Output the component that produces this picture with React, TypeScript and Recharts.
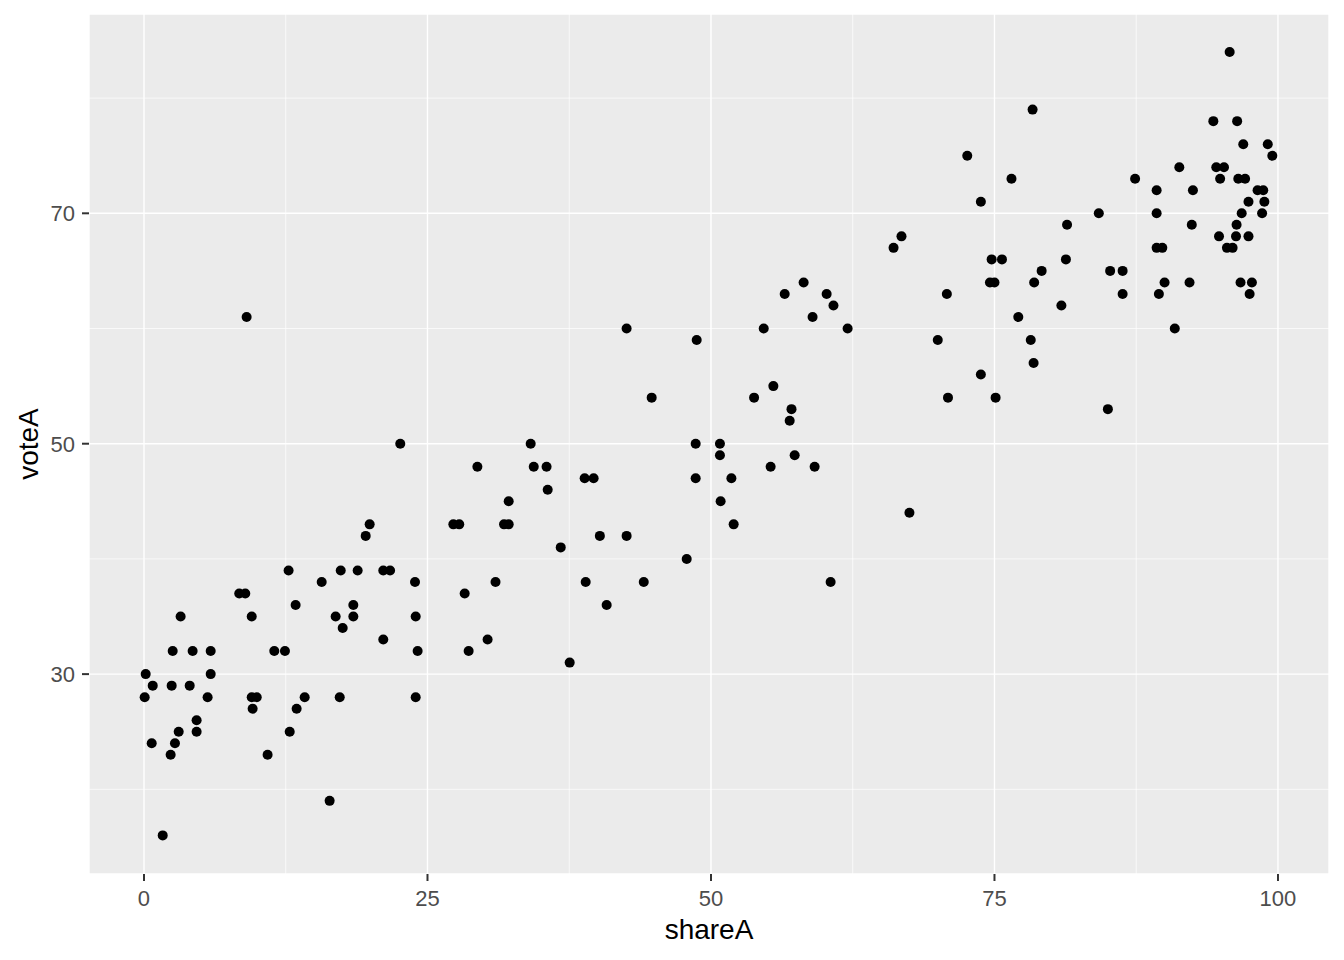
import { ScatterChart, Scatter, XAxis, YAxis, CartesianGrid, ReferenceLine } from 'recharts';

// shareA / voteA pairs
const shareA = [
  12.75, 17.35, 18.84, 21.1, 21.7, 23.9, 15.67, 8.4, 8.93, 13.37,
  18.46, 3.23, 9.5, 16.9, 18.46, 23.96, 17.52, 21.1, 2.53, 4.29,
  5.88, 11.49, 12.43, 24.13, 0.15, 5.88, 0.77, 2.44, 4.03, 0.06,
  5.61, 9.5, 9.94, 14.17, 17.26, 23.96, 9.58, 13.46, 4.64, 3.06,
  4.64, 12.85, 0.68, 2.73, 2.35, 10.9, 16.37, 1.65, 9.05, 22.6,
  34.1, 29.4, 34.37, 32.16, 19.9, 19.55, 27.28, 27.8, 31.75, 32.16,
  31.0, 42.56, 48.74, 44.77, 53.8, 48.65, 50.79, 50.79, 35.5, 38.86,
  39.65, 48.65, 51.8, 35.6, 50.85, 52.0, 40.2, 42.56, 36.75, 47.86,
  38.95, 44.07, 28.28, 66.1, 58.17, 56.5, 60.2, 60.8, 58.96, 54.65,
  62.05, 70.0, 55.5, 57.1, 56.94, 57.38, 55.26, 59.14, 67.5, 60.55,
  78.36, 72.6, 76.5, 87.4, 73.8, 84.2, 81.4, 66.8, 74.75, 75.66,
  81.3, 79.16, 85.2, 86.3, 74.6, 75.0, 78.5, 70.8, 86.3, 80.9,
  77.1, 78.2, 78.45, 73.8, 70.9, 75.1, 85.0, 95.74, 94.3, 96.4,
  96.94, 99.1, 99.5, 91.3, 94.56, 95.24, 94.9, 96.5, 97.1, 89.3,
  92.5, 98.2, 98.7, 97.4, 98.8, 89.3, 96.8, 98.6, 92.4, 96.35,
  94.8, 96.3, 97.4, 95.5, 96.0, 89.3, 89.8, 90.0, 92.2, 96.7,
  97.7, 89.5, 97.5, 90.9, 37.54, 40.8, 28.63, 30.3,
];

const voteA = [
  39, 39, 39, 39, 39, 38, 38, 37, 37, 36,
  36, 35, 35, 35, 35, 35, 34, 33, 32, 32,
  32, 32, 32, 32, 30, 30, 29, 29, 29, 28,
  28, 28, 28, 28, 28, 28, 27, 27, 26, 25,
  25, 25, 24, 24, 23, 23, 19, 16, 61, 50,
  50, 48, 48, 45, 43, 42, 43, 43, 43, 43,
  38, 60, 59, 54, 54, 50, 50, 49, 48, 47,
  47, 47, 47, 46, 45, 43, 42, 42, 41, 40,
  38, 38, 37, 67, 64, 63, 63, 62, 61, 60,
  60, 59, 55, 53, 52, 49, 48, 48, 44, 38,
  79, 75, 73, 73, 71, 70, 69, 68, 66, 66,
  66, 65, 65, 65, 64, 64, 64, 63, 63, 62,
  61, 59, 57, 56, 54, 54, 53, 84, 78, 78,
  76, 76, 75, 74, 74, 74, 73, 73, 73, 72,
  72, 72, 72, 71, 71, 70, 70, 70, 69, 69,
  68, 68, 68, 67, 67, 67, 67, 64, 64, 64,
  64, 63, 63, 60, 31, 36, 32, 33,
];

const xTicks = [0, 25, 50, 75, 100];
const xMinor = [12.5, 37.5, 62.5, 87.5];
const yTicks = [30, 50, 70];
const yMinor = [20, 40, 60, 80];

const points = shareA.map((s, i) => ({ shareA: s, voteA: voteA[i] }));

const FONT = '"Liberation Sans", Arial, sans-serif';

const Dot = ({ cx, cy }: { cx?: number; cy?: number }) => (
  <circle cx={cx} cy={cy} r={5} fill="#000000" />
);

const XTitle = ({ viewBox }: any) => {
  const { x, y, width, height } = viewBox;
  return (
    <text x={x + width / 2} y={y + height - 21} textAnchor="middle" fontSize={28} fontFamily={FONT} fill="#000000">
      shareA
    </text>
  );
};

const YTitle = ({ viewBox }: any) => {
  const { y, height } = viewBox;
  const cx = 38;
  const cy = y + height / 2;
  return (
    <text x={cx} y={cy} transform={`rotate(-90, ${cx}, ${cy})`} textAnchor="middle" fontSize={28} fontFamily={FONT} fill="#000000">
      voteA
    </text>
  );
};

export default function App() {
  return (
    <div>
      <style>{'body{margin:0}'}</style>
      <ScatterChart width={1344} height={960} margin={{ top: 14, right: 15, bottom: 0, left: 0 }}>
        <CartesianGrid fill="#EBEBEB" stroke="#FFFFFF" strokeWidth={1.4} />
        {xMinor.map(v => (
          <ReferenceLine key={`x${v}`} x={v} stroke="#FFFFFF" strokeWidth={0.7} />
        ))}
        {yMinor.map(v => (
          <ReferenceLine key={`y${v}`} y={v} stroke="#FFFFFF" strokeWidth={0.7} />
        ))}
        <XAxis
          type="number"
          dataKey="shareA"
          domain={[-4.85, 104.5]}
          allowDataOverflow
          ticks={xTicks}
          height={86}
          axisLine={false}
          tickSize={7}
          tickMargin={9}
          tickLine={{ stroke: '#333333', strokeWidth: 2 }}
          tick={{ fill: '#4D4D4D', fontSize: 22, fontFamily: FONT }}
          label={<XTitle />}
        />
        <YAxis
          type="number"
          dataKey="voteA"
          domain={[12.65, 87.3]}
          allowDataOverflow
          ticks={yTicks}
          width={89}
          axisLine={false}
          tickSize={7}
          tickMargin={7}
          tickLine={{ stroke: '#333333', strokeWidth: 2 }}
          tick={{ fill: '#4D4D4D', fontSize: 22, fontFamily: FONT }}
          label={<YTitle />}
        />
        <Scatter data={points} shape={<Dot />} isAnimationActive={false} />
      </ScatterChart>
    </div>
  );
}
